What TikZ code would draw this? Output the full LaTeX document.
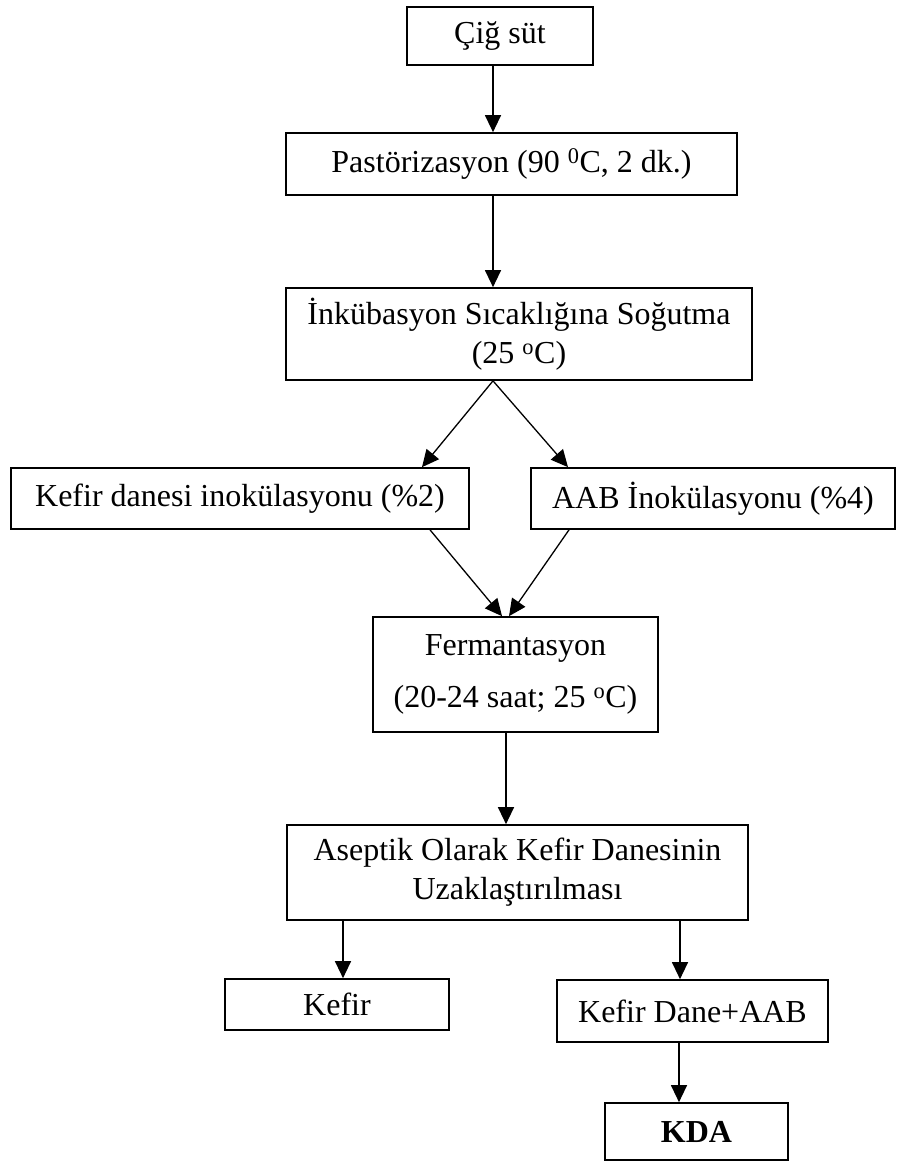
\documentclass[tikz,border=0pt]{standalone}
\usepackage{fontspec}
\setmainfont{Liberation Serif}
\usetikzlibrary{arrows.meta}
\begin{document}
\begin{tikzpicture}[x=1pt,y=-1pt,
  box/.style={draw, line width=1.7pt, inner sep=0pt, align=center, font=\fontsize{32}{39}\selectfont},
  arr/.style={line width=1.3pt, -{Triangle[length=17pt,width=16pt]}}]
\useasboundingbox (0,0) rectangle (897,1162);
\node[box, minimum width=186, minimum height=58] (cig) at (500,36) {Çiğ süt};
\node[box, minimum width=451, minimum height=62] (past) at (511.5,164) {Pastörizasyon (90 \textsuperscript{0}C, 2 dk.)};
\node[box, minimum width=466, minimum height=92] (ink) at (519,334) {İnkübasyon Sıcaklığına Soğutma\\(25 \textsuperscript{o}C)};
\node[box, minimum width=458, minimum height=61] (kdi) at (240,498.5) {Kefir danesi inokülasyonu (\%2)};
\node[box, minimum width=364, minimum height=61] (aab) at (713,498.5) {AAB İnokülasyonu (\%4)};
\node[box, minimum width=285, minimum height=115] (ferm) at (515.5,674.5) {Fermantasyon\\[13pt](20-24 saat; 25 \textsuperscript{o}C)};
\node[box, minimum width=461, minimum height=95] (asep) at (517.5,872.5) {Aseptik Olarak Kefir Danesinin\\Uzaklaştırılması};
\node[box, minimum width=224, minimum height=51] (kefir) at (337,1004.5) {Kefir};
\node[box, minimum width=271, minimum height=62] (kdaab) at (692.5,1011) {Kefir Dane+AAB};
\node[box, minimum width=183, minimum height=57] (kda) at (696.5,1131.5) {\textbf{KDA}};
\coordinate (xa) at (493,0);
\coordinate (xl) at (422,0);
\coordinate (xr) at (568,0);
\coordinate (xf1) at (430,0);
\coordinate (xf2) at (502,0);
\coordinate (xf3) at (569,0);
\coordinate (xf4) at (509,0);
\coordinate (xm) at (506,0);
\coordinate (xk) at (343,0);
\coordinate (xd) at (680,0);
\coordinate (xe) at (679,0);
\draw[arr] (cig.south -| xa) -- (past.north -| xa);
\draw[arr] (past.south -| xa) -- (ink.north -| xa);
\draw[arr] (ink.south -| xa) -- (kdi.north -| xl);
\draw[arr] (ink.south -| xa) -- (aab.north -| xr);
\draw[arr] (kdi.south -| xf1) -- (ferm.north -| xf2);
\draw[arr] (aab.south -| xf3) -- (ferm.north -| xf4);
\draw[arr] (ferm.south -| xm) -- (asep.north -| xm);
\draw[arr] (asep.south -| xk) -- (kefir.north -| xk);
\draw[arr] (asep.south -| xd) -- (kdaab.north -| xd);
\draw[arr] (kdaab.south -| xe) -- (kda.north -| xe);
\end{tikzpicture}
\end{document}
